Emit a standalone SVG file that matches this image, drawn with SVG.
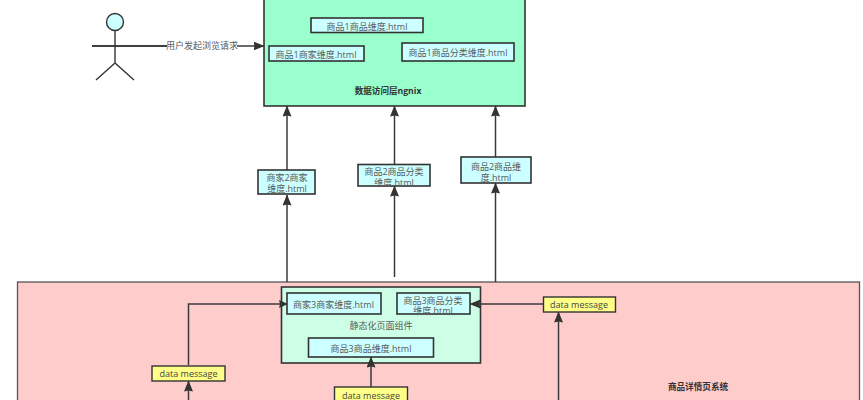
<svg xmlns="http://www.w3.org/2000/svg" width="863" height="400" viewBox="0 0 863 400">
<style>
text{font-family:"Open Sans","Noto Sans CJK SC",sans-serif;font-size:9px;fill:#5a5a5a;text-anchor:middle}
.b{font-weight:bold;fill:#333;font-size:8.600px}
.s{stroke:#333;stroke-width:1.600}
.c{fill:#ccffff}
.y{fill:#ffff88;stroke:#333;stroke-width:1.400}
.l{fill:none;stroke:#3a3a3a;stroke-width:1.500}
.d{fill:#444}
</style>
<defs><marker id="a" markerUnits="userSpaceOnUse" markerWidth="9" markerHeight="12" refX="8" refY="4" orient="auto"><path d="M0 0L9 4L0 8L1 4Z" fill="#333"/></marker>
<marker id="u" markerUnits="userSpaceOnUse" markerWidth="12" markerHeight="12" refX="10.500" refY="4.500" orient="auto"><path d="M0 0L11 4.500L0 9L1 4.500Z" fill="#333"/></marker></defs>
<rect width="863" height="400" fill="#fff"/>
<g id="system"><rect x="17.500" y="282" width="842" height="130" fill="#ffcccc" stroke="#555" stroke-width="1.300"/><text class="b" x="698" y="390">商品详情页系统</text></g>
<g id="nginx"><rect x="264" y="-4" width="261" height="110" fill="#99ffcc" stroke="#333" stroke-width="1.600"/><text class="b" x="388" y="94">数据访问层ngnix</text></g>
<g id="component"><rect x="281.500" y="287" width="199" height="76" fill="#ccffe6" stroke="#333" stroke-width="1.600"/><text x="381" y="329">静态化页面组件</text></g>
<g id="connectors">
<path class="l" d="M92 46H264" marker-end="url(#u)"/>
<path class="l" d="M287 282V195" marker-end="url(#u)"/>
<path class="l" d="M287 170V106" marker-end="url(#u)"/>
<path class="l" d="M394.500 277V186" marker-end="url(#u)"/>
<path class="l" d="M394.500 164V106" marker-end="url(#u)"/>
<path class="l" d="M495.500 282V183" marker-end="url(#u)"/>
<path class="l" d="M495.500 157V106" marker-end="url(#u)"/>
<path class="l" d="M188.500 365V304H287" marker-end="url(#a)"/>
<path class="l" d="M188.500 400V381" marker-end="url(#u)"/>
<path class="l" d="M544 304H470" marker-end="url(#u)"/>
<path class="l" d="M558.500 400V312" marker-end="url(#u)"/>
<path class="l" d="M371 387V357" marker-end="url(#u)"/>
</g>
<g id="actor" fill="none" stroke="#333" stroke-width="1.400"><circle cx="115" cy="22" r="8.500" fill="#ccffff"/><path d="M115 31V63M92 46H167M115 63L96 80M115 63L134 80"/></g>
<g id="label-request"><rect x="167" y="38" width="70" height="15" fill="#fff"/><text x="202" y="49">用户发起浏览请求</text></g>
<g id="h1a"><rect class="c s" x="311" y="18" width="112" height="14.500"/><text x="367" y="29.500">商品1商品维度.html</text></g>
<g id="h1b"><rect class="c s" x="269" y="46" width="95" height="15"/><text x="316" y="58">商品1商家维度.html</text></g>
<g id="h1c"><rect class="c s" x="402" y="43" width="112" height="18"/><text x="458" y="56">商品1商品分类维度.html</text></g>
<g id="h2a"><rect class="c s" x="258" y="170" width="57" height="24"/><text x="287" y="181">商家2商家</text><text x="287" y="192">维度.html</text></g>
<g id="h2b"><rect class="c s" x="358" y="164.500" width="72" height="21.500"/><text x="394" y="174.500">商品2商品分类</text><text x="394" y="185.500">维度.html</text></g>
<g id="h2c"><rect class="c s" x="461" y="157" width="70" height="26"/><text x="496" y="169.500">商品2商品维</text><text x="496" y="180.500">度.html</text></g>
<g id="h3a"><rect class="c s" x="287" y="293" width="94" height="21"/><text x="333.500" y="307.500">商家3商家维度.html</text></g>
<g id="h3b"><rect class="c s" x="397" y="293" width="73" height="21"/><text x="433" y="303.500">商品3商品分类</text><text x="433" y="313.500">维度.html</text></g>
<g id="h3c"><rect class="c s" x="308.500" y="338" width="125" height="19"/><text x="371" y="351.500">商品3商品维度.html</text></g>
<g id="m1"><rect class="y" x="152" y="366" width="73" height="15"/><text class="d" x="188.500" y="377">data message</text></g>
<g id="m2"><rect class="y" x="334.500" y="387" width="73" height="15"/><text class="d" x="371" y="399">data message</text></g>
<g id="m3"><rect class="y" x="543.500" y="297" width="72" height="15"/><text class="d" x="579" y="308">data message</text></g>
</svg>
